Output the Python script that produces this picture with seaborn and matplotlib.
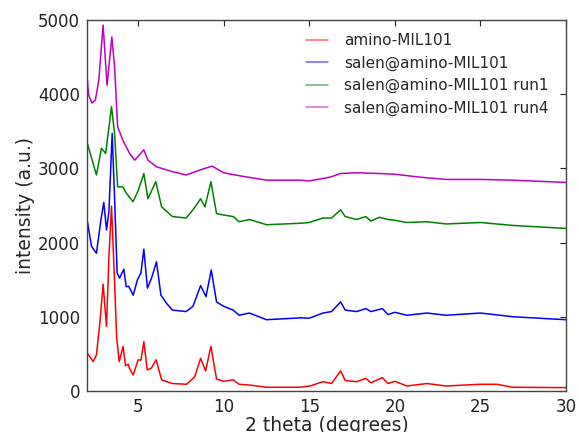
import matplotlib
matplotlib.use('Agg')
import matplotlib.pyplot as plt
import seaborn as sns
import pandas as pd

# 2 theta positions and intensities
amino_x = [2.0, 2.37, 2.56, 2.76, 2.95, 3.15, 3.29, 3.44, 3.6, 3.74, 3.89, 4.12, 4.26, 4.42, 4.5,
           4.71, 5.0, 5.16, 5.33, 5.53, 5.78, 6.05, 6.37, 7.0, 7.83, 8.3, 8.65, 8.94, 9.25,
           9.58, 10.0, 10.55, 10.9, 11.5, 12.5, 14.5, 15.04, 15.8, 16.3, 16.83, 17.1, 17.77,
           18.3, 18.6, 19.27, 19.6, 20.0, 20.7, 21.87, 23.0, 24.98, 25.96, 26.9, 30.0]
amino_y = [520, 395, 485, 915, 1440, 870, 1810, 2490, 1590, 730, 395, 600, 340, 360, 300,
           215, 420, 415, 665, 283, 310, 420, 150, 100, 90, 190, 440, 270, 600,
           160, 130, 150, 90, 80, 50, 50, 67, 125, 100, 270, 140, 125,
           170, 110, 180, 100, 130, 67, 100, 67, 90, 90, 50, 45]

salen_x = [2.0, 2.27, 2.56, 2.82, 2.99, 3.15, 3.29, 3.48, 3.62, 3.77, 3.91, 4.16, 4.3, 4.45, 4.71,
           4.96, 5.16, 5.33, 5.54, 5.78, 6.07, 6.33, 6.66, 7.0, 7.8, 8.2, 8.65, 8.96, 9.27,
           9.58, 10.0, 10.55, 10.9, 11.5, 12.5, 14.5, 15.0, 15.8, 16.3, 16.83, 17.1, 17.77,
           18.3, 18.6, 19.27, 19.6, 20.0, 20.7, 21.87, 23.0, 25.0, 26.9, 30.0]
salen_y = [2330, 1950, 1855, 2300, 2540, 2170, 2420, 3470, 2600, 1590, 1520, 1640, 1405, 1410, 1290,
           1500, 1590, 1910, 1385, 1520, 1740, 1290, 1180, 1090, 1070, 1140, 1420, 1270, 1630,
           1200, 1140, 1090, 1020, 1050, 960, 985, 980, 1050, 1070, 1200, 1090, 1070,
           1110, 1070, 1110, 1030, 1060, 1020, 1050, 1020, 1050, 1000, 960]

run1_x = [2.0, 2.56, 2.85, 3.1, 3.44, 3.62, 3.8, 4.1, 4.32, 4.7, 5.0, 5.33, 5.57, 6.03, 6.37,
          7.0, 7.8, 8.2, 8.65, 8.9, 9.25, 9.58, 10.0, 10.55, 10.9, 11.5, 12.5, 14.5, 15.0,
          15.8, 16.3, 16.83, 17.1, 17.77, 18.3, 18.6, 19.1, 19.6, 20.0, 20.7, 21.87, 23.0,
          25.0, 26.9, 30.0]
run1_y = [3360, 2910, 3270, 3200, 3830, 3470, 2750, 2750, 2660, 2550, 2700, 2930, 2590, 2820, 2480,
          2350, 2330, 2440, 2590, 2480, 2820, 2390, 2370, 2350, 2280, 2310, 2240, 2260, 2270,
          2330, 2330, 2440, 2350, 2310, 2350, 2290, 2340, 2310, 2300, 2270, 2280, 2250,
          2270, 2230, 2190]

run4_x = [2.0, 2.1, 2.3, 2.5, 2.7, 2.95, 3.18, 3.46, 3.62, 3.8, 4.1, 4.5, 4.8, 5.33, 5.57,
          6.07, 7.0, 7.8, 8.65, 9.32, 10.0, 10.9, 12.5, 14.5, 15.0, 16.2, 16.83, 17.77, 19.1,
          20.0, 21.5, 23.0, 25.0, 26.9, 30.0]
run4_y = [4280, 3990, 3880, 3920, 4190, 4930, 4120, 4770, 4370, 3560, 3380, 3200, 3110, 3250, 3110,
          3020, 2955, 2910, 2980, 3030, 2940, 2900, 2840, 2840, 2830, 2880, 2930, 2940, 2930,
          2920, 2880, 2850, 2850, 2840, 2810]

labels = ['amino-MIL101', 'salen@amino-MIL101', 'salen@amino-MIL101 run1', 'salen@amino-MIL101 run4']
colors = ['#ff0000', '#0000ff', '#008000', '#bf00bf']

sns.set_style('white')
plt.rcParams['font.family'] = ['DejaVu Sans']
plt.rcParams['font.size'] = 12

fig = plt.figure(figsize=(5.79, 4.32), dpi=100)
ax = fig.add_axes([0.150, 0.095, 0.8275, 0.859])

series = [(amino_x, amino_y), (salen_x, salen_y), (run1_x, run1_y), (run4_x, run4_y)]
for (xs, ys), lab, c in zip(series, labels, colors):
    df = pd.DataFrame({'x': xs, 'y': ys})
    sns.lineplot(data=df, x='x', y='y', ax=ax, color=c, label=lab, linewidth=1.1, estimator=None)

ax.set_xlim(2, 30)
ax.set_ylim(0, 5000)
ax.set_xticks([5, 10, 15, 20, 25, 30])
ax.set_yticks([0, 1000, 2000, 3000, 4000, 5000])
ax.set_xlabel('2 theta (degrees)', fontsize=13.5, labelpad=0)
ax.set_ylabel('intensity (a.u.)', fontsize=13.5, labelpad=2)
ax.tick_params(direction='in', top=True, right=True, length=4, width=0.8, labelsize=12,
               colors='#222222', pad=5)
for s in ax.spines.values():
    s.set_color('#444444')
    s.set_linewidth(1.0)

leg = ax.legend(loc='upper left', bbox_to_anchor=(0.4447, 0.981), frameon=False, fontsize=11,
                handlelength=1.44, handletextpad=1.05, borderaxespad=0, labelspacing=0.48)
for h in leg.get_lines():
    h.set_alpha(0.6)

fig.savefig('out.png', dpi=100)
